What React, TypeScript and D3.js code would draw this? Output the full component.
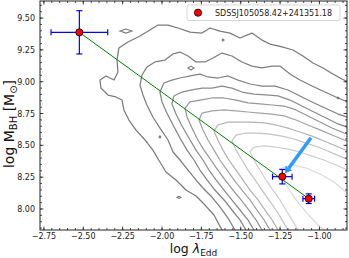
import React from 'react'
import * as d3 from 'd3'

// axis setup
const xLimits = [-2.775, -0.825]
const yLimits = [7.835, 9.634]
const xTickValues = [-2.75, -2.5, -2.25, -2.0, -1.75, -1.5, -1.25, -1.0]
const yTickValues = [8.0, 8.25, 8.5, 8.75, 9.0, 9.25, 9.5]

// the source, three epochs
const sourceName = 'SDSSJ105058.42+241351.18'
const logEdd = [-2.525, -1.236, -1.068]
const logMbh = [9.388, 8.254, 8.081]
const logEddErr = [0.18, 0.062, 0.037]
const logMbhErr = [0.17, 0.057, 0.038]
const arrowFrom = [-1.054, 8.56]
const arrowTo = [-1.219, 8.28]

// SDSS quasar density contours, outermost first
const contour1 = [
    [-1.594, 7.756], [-1.619, 7.835], [-1.670, 7.953], [-1.727, 8.031], [-1.784, 8.102], [-1.848, 8.149],
    [-1.911, 8.228], [-1.975, 8.291], [-2.013, 8.369], [-2.058, 8.463], [-2.102, 8.534], [-2.166, 8.621],
    [-2.210, 8.699], [-2.242, 8.778], [-2.254, 8.856], [-2.293, 8.880], [-2.343, 8.895], [-2.388, 8.950],
    [-2.394, 9.013], [-2.356, 9.045], [-2.305, 9.013], [-2.280, 9.076], [-2.286, 9.170], [-2.274, 9.265],
    [-2.216, 9.312], [-2.140, 9.359], [-2.077, 9.406], [-2.026, 9.445], [-1.962, 9.445], [-1.899, 9.422],
    [-1.822, 9.390], [-1.746, 9.382], [-1.695, 9.422], [-1.632, 9.398], [-1.568, 9.382], [-1.505, 9.343],
    [-1.429, 9.382], [-1.365, 9.327], [-1.314, 9.296], [-1.238, 9.273], [-1.168, 9.249], [-1.105, 9.202],
    [-1.041, 9.147], [-0.978, 9.108], [-0.914, 9.060], [-0.857, 9.021], [-0.793, 8.982], [-0.743, 7.756],
]
const contour2 = [
    [-1.518, 7.756], [-1.537, 7.835], [-1.581, 7.929], [-1.632, 8.016], [-1.683, 8.094], [-1.740, 8.165],
    [-1.784, 8.228], [-1.835, 8.306], [-1.886, 8.385], [-1.930, 8.448], [-1.962, 8.542], [-2.013, 8.636],
    [-2.058, 8.723], [-2.096, 8.817], [-2.121, 8.896], [-2.140, 8.974], [-2.127, 9.053], [-2.096, 9.115],
    [-2.045, 9.155], [-1.981, 9.170], [-1.930, 9.218], [-1.886, 9.233], [-1.835, 9.202], [-1.784, 9.155],
    [-1.727, 9.155], [-1.676, 9.186], [-1.619, 9.225], [-1.556, 9.202], [-1.492, 9.155], [-1.429, 9.123],
    [-1.365, 9.108], [-1.301, 9.123], [-1.251, 9.123], [-1.187, 9.060], [-1.124, 9.013], [-1.047, 8.966],
    [-0.965, 8.919], [-0.882, 8.872], [-0.819, 8.841], [-0.742, 8.793], [-0.742, 7.756],
]
const contour3 = [
    [-1.441, 7.756], [-1.467, 7.835], [-1.505, 7.914], [-1.556, 7.992], [-1.606, 8.071], [-1.664, 8.149],
    [-1.714, 8.228], [-1.759, 8.306], [-1.797, 8.385], [-1.841, 8.463], [-1.886, 8.558], [-1.930, 8.660],
    [-1.969, 8.754], [-2.000, 8.841], [-2.013, 8.919], [-1.988, 8.990], [-1.937, 9.013], [-1.886, 9.029],
    [-1.822, 9.045], [-1.759, 9.060], [-1.708, 9.037], [-1.645, 9.029], [-1.581, 9.045], [-1.517, 9.013],
    [-1.441, 8.982], [-1.365, 8.966], [-1.282, 8.966], [-1.200, 8.935], [-1.124, 8.888], [-1.047, 8.841],
    [-0.965, 8.793], [-0.882, 8.746], [-0.806, 8.715], [-0.742, 8.683], [-0.742, 7.756],
]
const contour4 = [
    [-1.390, 7.756], [-1.416, 7.835], [-1.454, 7.914], [-1.505, 7.992], [-1.556, 8.071], [-1.606, 8.149],
    [-1.657, 8.228], [-1.702, 8.306], [-1.740, 8.385], [-1.784, 8.463], [-1.829, 8.558], [-1.873, 8.652],
    [-1.911, 8.746], [-1.937, 8.825], [-1.924, 8.888], [-1.873, 8.919], [-1.810, 8.935], [-1.746, 8.950],
    [-1.683, 8.950], [-1.619, 8.966], [-1.556, 8.950], [-1.492, 8.919], [-1.416, 8.903], [-1.340, 8.896],
    [-1.263, 8.888], [-1.187, 8.856], [-1.111, 8.809], [-1.035, 8.762], [-0.958, 8.715], [-0.882, 8.668],
    [-0.806, 8.636], [-0.742, 8.605], [-0.742, 7.756],
]
const contour5 = [
    [-1.340, 7.756], [-1.365, 7.835], [-1.403, 7.914], [-1.448, 7.992], [-1.498, 8.071], [-1.549, 8.149],
    [-1.600, 8.228], [-1.645, 8.306], [-1.689, 8.385], [-1.733, 8.463], [-1.772, 8.542], [-1.810, 8.636],
    [-1.841, 8.723], [-1.854, 8.793], [-1.822, 8.841], [-1.759, 8.856], [-1.683, 8.872], [-1.606, 8.872],
    [-1.530, 8.856], [-1.454, 8.833], [-1.378, 8.825], [-1.301, 8.817], [-1.225, 8.809], [-1.149, 8.778],
    [-1.073, 8.731], [-0.997, 8.683], [-0.920, 8.636], [-0.844, 8.597], [-0.742, 8.558], [-0.742, 7.756],
]
const contour6 = [
    [-1.289, 7.756], [-1.314, 7.835], [-1.352, 7.914], [-1.397, 7.992], [-1.441, 8.071], [-1.492, 8.149],
    [-1.543, 8.228], [-1.587, 8.306], [-1.632, 8.385], [-1.670, 8.463], [-1.708, 8.542], [-1.740, 8.621],
    [-1.765, 8.699], [-1.746, 8.754], [-1.683, 8.770], [-1.606, 8.778], [-1.530, 8.770], [-1.454, 8.762],
    [-1.378, 8.754], [-1.301, 8.746], [-1.225, 8.731], [-1.149, 8.699], [-1.073, 8.660], [-0.997, 8.621],
    [-0.920, 8.581], [-0.844, 8.542], [-0.742, 8.495], [-0.742, 7.756],
]
const contour7 = [
    [-1.238, 7.756], [-1.263, 7.835], [-1.301, 7.914], [-1.346, 7.992], [-1.390, 8.071], [-1.441, 8.149],
    [-1.486, 8.228], [-1.530, 8.306], [-1.575, 8.385], [-1.613, 8.463], [-1.645, 8.542], [-1.670, 8.613],
    [-1.645, 8.660], [-1.581, 8.683], [-1.505, 8.683], [-1.429, 8.683], [-1.352, 8.676], [-1.276, 8.660],
    [-1.200, 8.636], [-1.124, 8.605], [-1.047, 8.573], [-0.971, 8.534], [-0.895, 8.495], [-0.819, 8.456],
    [-0.742, 8.416], [-0.742, 7.756],
]
const contour8 = [
    [-1.174, 7.756], [-1.200, 7.835], [-1.238, 7.914], [-1.276, 7.992], [-1.321, 8.071], [-1.365, 8.149],
    [-1.409, 8.228], [-1.454, 8.306], [-1.492, 8.385], [-1.530, 8.463], [-1.556, 8.534], [-1.530, 8.581],
    [-1.467, 8.597], [-1.390, 8.597], [-1.314, 8.589], [-1.238, 8.573], [-1.162, 8.550], [-1.085, 8.518],
    [-1.009, 8.487], [-0.933, 8.448], [-0.857, 8.408], [-0.742, 8.354], [-0.742, 7.756],
]
const contour9 = [
    [-1.111, 7.756], [-1.136, 7.835], [-1.174, 7.914], [-1.213, 7.992], [-1.251, 8.071], [-1.295, 8.149],
    [-1.340, 8.228], [-1.378, 8.306], [-1.416, 8.385], [-1.441, 8.448], [-1.416, 8.487], [-1.352, 8.495],
    [-1.276, 8.487], [-1.200, 8.471], [-1.124, 8.448], [-1.047, 8.416], [-0.971, 8.385], [-0.895, 8.346],
    [-0.819, 8.306], [-0.742, 8.267], [-0.742, 7.756],
]
const contour10 = [
    [-0.933, 7.796], [-1.009, 7.874], [-1.085, 7.976], [-1.149, 8.071], [-1.200, 8.165], [-1.238, 8.259],
    [-1.238, 8.322], [-1.174, 8.346], [-1.085, 8.322], [-0.997, 8.275], [-0.908, 8.212], [-0.831, 8.134],
    [-0.774, 8.031], [-0.774, 7.796],
]
// small isolated islands of the two outer levels
const islandA = [[-2.267, 9.398], [-2.229, 9.414], [-2.191, 9.398], [-2.229, 9.382]]
const islandB = [[-1.835, 9.108], [-1.816, 9.123], [-1.797, 9.108], [-1.816, 9.092]]
const islandC = [[-1.619, 9.327], [-1.613, 9.335], [-1.606, 9.327], [-1.613, 9.320]]
const islandD = [[-0.888, 8.872], [-0.882, 8.880], [-0.876, 8.872], [-0.882, 8.864]]
const islandE = [[-2.019, 8.566], [-2.013, 8.574], [-2.007, 8.566], [-2.013, 8.558]]
const islandF = [[-1.905, 8.092], [-1.892, 8.100], [-1.880, 8.092], [-1.892, 8.084]]

const contours = [contour1, contour2, contour3, contour4, contour5, contour6, contour7, contour8, contour9, contour10]
const islands = [islandA, islandB, islandC, islandD, islandE, islandF]
const islandLevel = [0, 1, 0, 0, 1, 0]
const contourGreys = ['#7a7a7a', '#7e7e7e', '#838383', '#8b8b8b', '#969696', '#a4a4a4', '#b3b3b3', '#c2c2c2', '#cfcfcf', '#dadada']

const width = 349
const height = 258
const margin = { left: 40, right: 347, top: 1, bottom: 230 }
const font = 'DejaVu Sans, sans-serif'

const App = () => {
    const x = d3.scaleLinear().domain(xLimits).range([margin.left, margin.right])
    const y = d3.scaleLinear().domain(yLimits).range([margin.bottom, margin.top])
    const line = d3.line().x(d => x(d[0])).y(d => y(d[1])).curve(d3.curveLinearClosed)
    const fmt = d3.format('.2f')

    const xMinor = d3.range(-55, -16).map(i => i * 0.05).filter(v => v > xLimits[0] && v < xLimits[1])
    const yMinor = d3.range(157, 193).map(i => i * 0.05).filter(v => v > yLimits[0] && v < yLimits[1])

    // arrow geometry in pixels
    const ax0 = x(arrowFrom[0]), ay0 = y(arrowFrom[1])
    const ax1 = x(arrowTo[0]), ay1 = y(arrowTo[1])
    const len = Math.hypot(ax1 - ax0, ay1 - ay0)
    const ux = (ax1 - ax0) / len, uy = (ay1 - ay0) / len
    const headLen = 6.5, headW = 4.2
    const bx = ax1 - ux * headLen, by = ay1 - uy * headLen
    const head = [[ax1, ay1], [bx - uy * headW, by + ux * headW], [bx + uy * headW, by - ux * headW]]

    const pts = logEdd.map((v, i) => ({ x: v, y: logMbh[i], ex: logEddErr[i], ey: logMbhErr[i] }))

    return (
        <svg width={width} height={height} style={{ position: 'absolute', left: 0, top: 0, background: '#fff' }}>
            <defs>
                <clipPath id="plot">
                    <rect x={margin.left} y={margin.top} width={margin.right - margin.left} height={margin.bottom - margin.top} />
                </clipPath>
            </defs>
            <g clipPath="url(#plot)">
                {contours.map((c, i) => (
                    <path key={i} d={line(c)} fill="none" stroke={contourGreys[i]} strokeWidth={1.25} strokeLinejoin="round" />
                ))}
                {islands.map((c, i) => (
                    <path key={'i' + i} d={line(c)} fill="none" stroke={contourGreys[islandLevel[i]]} strokeWidth={1.1} />
                ))}
                <line x1={x(logEdd[0])} y1={y(logMbh[0])} x2={x(logEdd[2])} y2={y(logMbh[2])} stroke="green" strokeWidth={1} />
                <line x1={ax0} y1={ay0} x2={bx} y2={by} stroke="#2f9bff" strokeWidth={3.5} />
                <polygon points={head.map(p => p.join(',')).join(' ')} fill="#2f9bff" />
                {pts.map((p, i) => (
                    <g key={i} stroke="#0000ff" strokeWidth={1.2}>
                        <line x1={x(p.x - p.ex)} x2={x(p.x + p.ex)} y1={y(p.y)} y2={y(p.y)} />
                        <line x1={x(p.x)} x2={x(p.x)} y1={y(p.y - p.ey)} y2={y(p.y + p.ey)} />
                        <line x1={x(p.x - p.ex)} x2={x(p.x - p.ex)} y1={y(p.y) - 3} y2={y(p.y) + 3} />
                        <line x1={x(p.x + p.ex)} x2={x(p.x + p.ex)} y1={y(p.y) - 3} y2={y(p.y) + 3} />
                        <line x1={x(p.x) - 3} x2={x(p.x) + 3} y1={y(p.y - p.ey)} y2={y(p.y - p.ey)} />
                        <line x1={x(p.x) - 3} x2={x(p.x) + 3} y1={y(p.y + p.ey)} y2={y(p.y + p.ey)} />
                    </g>
                ))}
                {pts.map((p, i) => (
                    <circle key={i} cx={x(p.x)} cy={y(p.y)} r={3.6} fill="red" stroke="#000" strokeWidth={0.8} />
                ))}
            </g>

            {/* ticks, inward on all four sides */}
            <g stroke="#222" strokeWidth={0.8}>
                {xTickValues.map(t => (
                    <g key={t}>
                        <line x1={x(t)} x2={x(t)} y1={margin.bottom} y2={margin.bottom - 3.5} />
                        <line x1={x(t)} x2={x(t)} y1={margin.top} y2={margin.top + 3.5} />
                    </g>
                ))}
                {xMinor.map(t => (
                    <g key={t}>
                        <line x1={x(t)} x2={x(t)} y1={margin.bottom} y2={margin.bottom - 2} />
                        <line x1={x(t)} x2={x(t)} y1={margin.top} y2={margin.top + 2} />
                    </g>
                ))}
                {yTickValues.map(t => (
                    <g key={t}>
                        <line x1={margin.left} x2={margin.left + 3.5} y1={y(t)} y2={y(t)} />
                        <line x1={margin.right} x2={margin.right - 3.5} y1={y(t)} y2={y(t)} />
                    </g>
                ))}
                {yMinor.map(t => (
                    <g key={t}>
                        <line x1={margin.left} x2={margin.left + 2} y1={y(t)} y2={y(t)} />
                        <line x1={margin.right} x2={margin.right - 2} y1={y(t)} y2={y(t)} />
                    </g>
                ))}
            </g>
            <rect x={margin.left} y={margin.top} width={margin.right - margin.left} height={margin.bottom - margin.top}
                fill="none" stroke="#222" strokeWidth={1} />

            <g fontFamily={font} fontSize={8} fill="#222">
                {xTickValues.map(t => (
                    <text key={t} x={x(t)} y={margin.bottom + 9.3} textAnchor="middle">{fmt(t)}</text>
                ))}
                {yTickValues.map(t => (
                    <text key={t} x={margin.left - 5} y={y(t) + 3} textAnchor="end">{fmt(t)}</text>
                ))}
            </g>

            <text x={(margin.left + margin.right) / 2} y={253} textAnchor="middle" fontFamily={font} fontSize={12.5} fill="#111">
                log <tspan fontStyle="italic">λ</tspan><tspan dy={2.5} fontSize={9}>Edd</tspan>
            </text>
            <text transform="translate(14,124) rotate(-90)" textAnchor="middle" fontFamily={font} fontSize={14} fill="#111">
                log M<tspan dy={3} fontSize={10}>BH</tspan><tspan dy={-3}> [M</tspan><tspan dy={3} fontSize={10}>⊙</tspan><tspan dy={-3}>]</tspan>
            </text>

            {/* legend */}
            <rect x={187} y={5} width={153} height={15.5} rx={2} fill="#fff" fillOpacity={0.85} stroke="#ccc" strokeWidth={0.8} />
            <circle cx={198} cy={12.7} r={3.6} fill="red" stroke="#000" strokeWidth={0.8} />
            <text x={215} y={15.6} fontFamily={font} fontSize={8} fill="#222">{sourceName}</text>
        </svg>
    )
}

export default App
